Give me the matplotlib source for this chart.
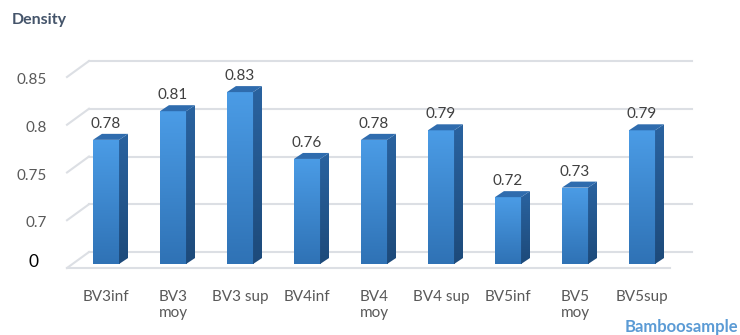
import numpy as np
import matplotlib.pyplot as plt
from matplotlib.patches import Polygon
from matplotlib.colors import LinearSegmentedColormap

categories = ['BV3inf', 'BV3\nmoy', 'BV3 sup', 'BV4inf', 'BV4\nmoy',
              'BV4 sup', 'BV5inf', 'BV5\nmoy', 'BV5sup']
density = [0.78, 0.81, 0.83, 0.76, 0.78, 0.79, 0.72, 0.73, 0.79]
tick_values = [0.65, 0.7, 0.75, 0.8, 0.85]
tick_labels = ['0', '0.7', '0.75', '0.8', '0.85']
y_floor = 0.65

plt.rcParams['font.family'] = ['Lato', 'DejaVu Sans']

W, H = 740, 335
fig = plt.figure(figsize=(W / 100, H / 100), dpi=100)
# axes = front plane of the bars
ax = fig.add_axes([72.5 / W, (H - 264) / H, 603 / W, 191 / H])
ax.set_xlim(-0.5, len(categories) - 0.5)
ax.set_ylim(y_floor, 0.85)
ax.axis('off')


def px(dx, dy):
    """pixel offset -> data offset (dy positive = up)"""
    x0, x1 = ax.get_xlim()
    y0, y1 = ax.get_ylim()
    bb = ax.get_position()
    return dx * (x1 - x0) / (bb.width * W), dy * (y1 - y0) / (bb.height * H)


grid_col = '#dcdfe4'
bx, by = px(16.5, 12)     # back wall
fx, fy = px(-5.5, -4)     # front edge of the floor
ddx, ddy = px(9, 6)       # bar depth
xl, xr = ax.get_xlim()

# back wall gridlines + left wall slants
for v in tick_values:
    ax.plot([xl + bx, xr + bx], [v + by, v + by], color=grid_col, lw=1.5,
            clip_on=False, zorder=1)
    ax.plot([xl + fx, xl + bx], [v + fy, v + by], color=grid_col, lw=1.5,
            clip_on=False, zorder=1)
# floor front edge
ax.plot([xl + fx, xr + fx], [y_floor + fy, y_floor + fy], color=grid_col,
        lw=1.5, clip_on=False, zorder=1)

front_cmap = LinearSegmentedColormap.from_list('front', ['#2f72b5', '#4b9ce6'])
side_cmap = LinearSegmentedColormap.from_list('side', ['#1d4a7a', '#2a63a0'])
grad = np.linspace(0, 1, 256).reshape(-1, 1)

w = 0.39
x = np.arange(len(categories))
bars = ax.bar(x, np.array(density) - y_floor, bottom=y_floor, width=w,
              color='none', zorder=3)
for xi, v, bar in zip(x, density, bars):
    im = ax.imshow(grad, extent=[xi - w / 2, xi + w / 2, y_floor, v],
                   origin='lower', aspect='auto', cmap=front_cmap, zorder=3)
    im.set_clip_path(bar)

    side = Polygon([(xi + w / 2, y_floor), (xi + w / 2 + ddx, y_floor + ddy),
                    (xi + w / 2 + ddx, v + ddy), (xi + w / 2, v)],
                   closed=True, facecolor='none', edgecolor='none', zorder=3)
    ax.add_patch(side)
    im2 = ax.imshow(grad, extent=[xi + w / 2, xi + w / 2 + ddx, y_floor, v + ddy],
                    origin='lower', aspect='auto', cmap=side_cmap, zorder=3)
    im2.set_clip_path(side)

    top = Polygon([(xi - w / 2, v), (xi + w / 2, v),
                   (xi + w / 2 + ddx, v + ddy), (xi - w / 2 + ddx, v + ddy)],
                  closed=True, facecolor='#2f6cae', edgecolor='none', zorder=4)
    ax.add_patch(top)

    lx, ly = px(0, 16)
    ax.text(xi, v + ly, f'{v:.2f}', ha='center', va='center', fontsize=11,
            color='#404040', zorder=5)

ax.set_xlim(xl, xr)
ax.set_ylim(y_floor, 0.85)

# value axis labels, placed at the front edge
tx, _ = px(47 - 72.5, 0)
for v, lab in zip(tick_values, tick_labels):
    if lab == '0':
        ox, oy = px(33.5 - 72.5, 2)
        ax.text(xl + ox, v + oy, lab, ha='center', va='center', fontsize=12.5,
                color='black', clip_on=False)
    else:
        _, oy = px(0, -7)
        ax.text(xl + tx, v + oy, lab, ha='right', va='center', fontsize=11,
                color='#595959', clip_on=False)

# category labels
_, cy = px(0, -26)
for xi, lab in zip(x, categories):
    ax.text(xi, y_floor + cy, lab, ha='center', va='top', fontsize=11,
            color='#595959', linespacing=1.2, clip_on=False)

fig.text(12 / W, 1 - 20 / H, 'Density', fontsize=11.5, fontweight='bold',
         color='#44546a', va='center', ha='left')
fig.text(738 / W, 1 - 327 / H, 'Bamboosample', fontsize=12, fontweight='bold',
         color='#5b9bd5', va='center', ha='right')

fig.savefig('out.png', dpi=100)
